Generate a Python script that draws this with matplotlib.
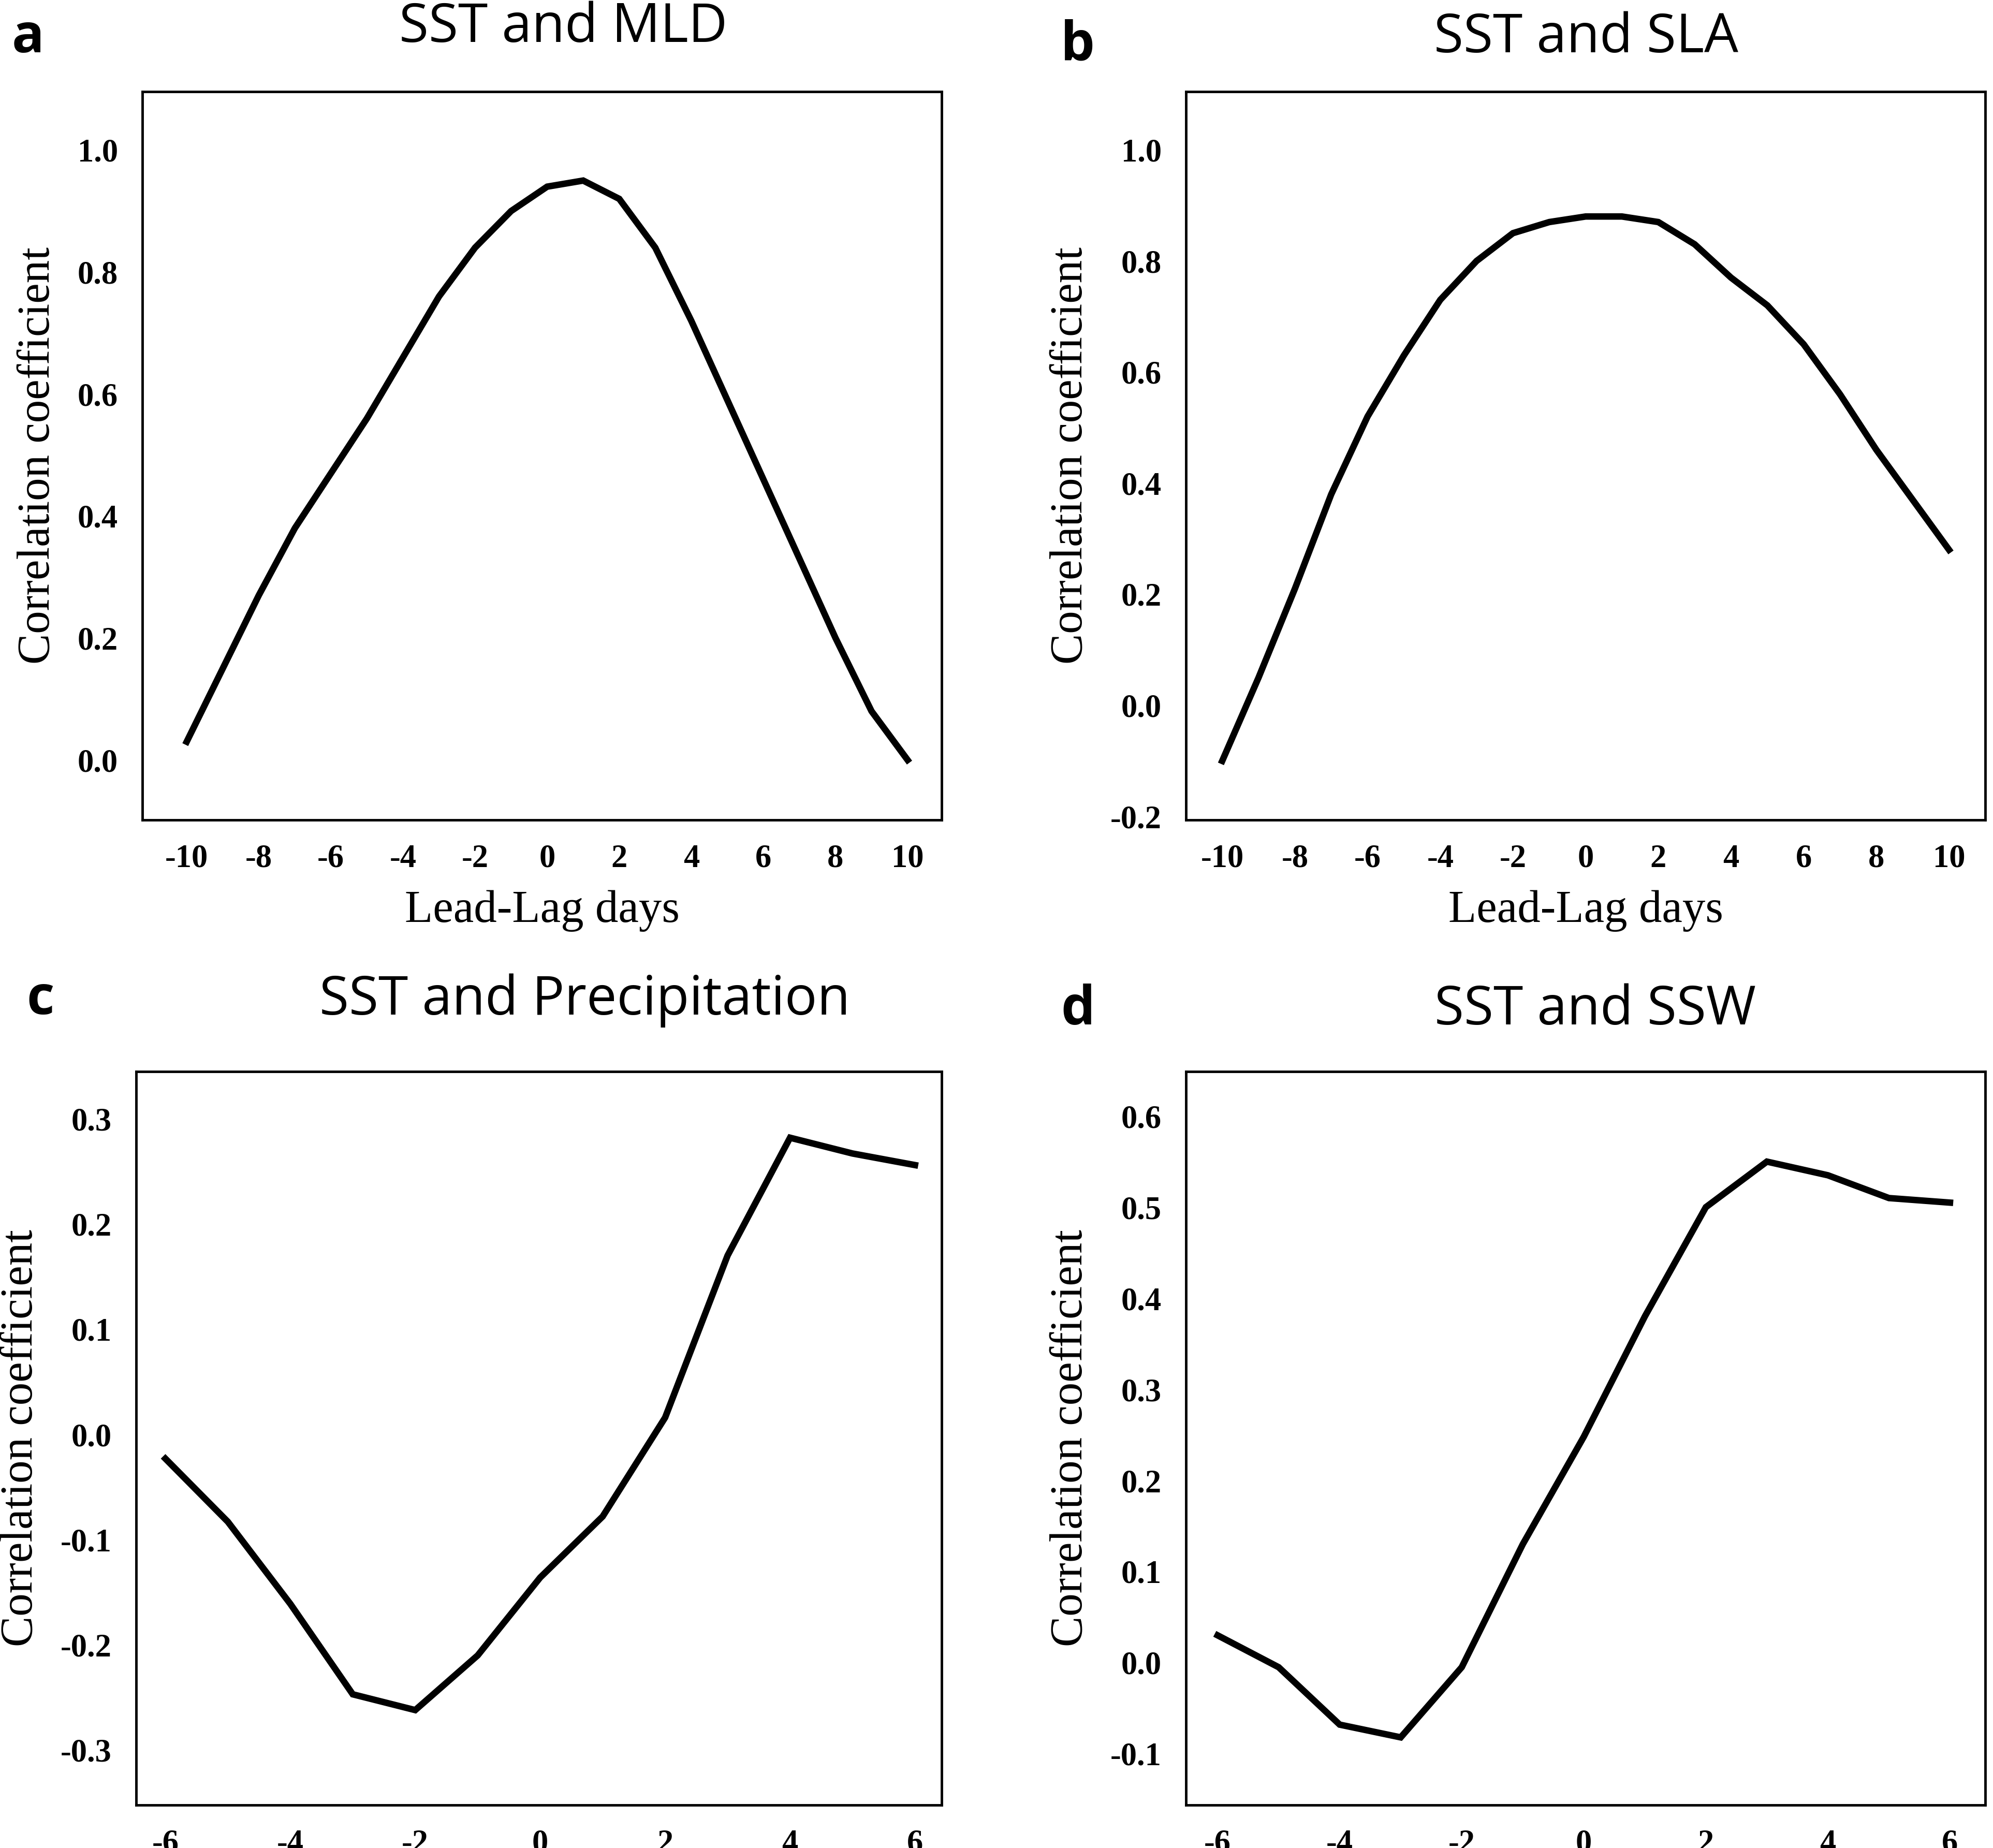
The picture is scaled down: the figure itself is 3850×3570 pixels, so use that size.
import matplotlib
matplotlib.use("Agg")
import matplotlib.pyplot as plt

x_ab = list(range(-10, 11))
x_cd = list(range(-6, 7))
mld = [0.03,0.15,0.27,0.38,0.47,0.56,0.66,0.76,0.84,0.90,0.94,0.95,0.92,0.84,0.72,0.59,0.46,0.33,0.20,0.08,0.0]
sla = [-0.10,0.05,0.21,0.38,0.52,0.63,0.73,0.80,0.85,0.87,0.88,0.88,0.87,0.83,0.77,0.72,0.65,0.56,0.46,0.37,0.28]
pre = [-0.023,-0.083,-0.161,-0.247,-0.262,-0.21,-0.136,-0.078,0.016,0.17,0.282,0.267,0.256]
ssw = [0.03,-0.005,-0.068,-0.082,-0.005,0.13,0.248,0.38,0.50,0.55,0.535,0.51,0.505]

W, H = 1568, 1454
fig = plt.figure(figsize=(38.5, 35.7), dpi=100)
serif = "Liberation Serif"
sans = "Open Sans"

panels = [
    ("a", "SST and MLD", (112, 741, 72, 645), x_ab, mld, (-11.23, 10.95), (-0.098, 1.096),
     [-10,-8,-6,-4,-2,0,2,4,6,8,10], [0.0,0.2,0.4,0.6,0.8,1.0], True, (443, 22), (22, 30)),
    ("b", "SST and SLA", (933, 1562, 72, 645), x_ab, sla, (-11.0, 11.0), (-0.206, 1.105),
     [-10,-8,-6,-4,-2,0,2,4,6,8,10], [-0.2,0.0,0.2,0.4,0.6,0.8,1.0], True, (1248, 30), (848, 36)),
    ("c", "SST and Precipitation", (107, 741, 843, 1420), x_cd, pre, (-6.47, 6.43), (-0.352, 0.345),
     [-6,-4,-2,0,2,4,6], [-0.3,-0.2,-0.1,0.0,0.1,0.2,0.3], False, (460, 787), (32, 787)),
    ("d", "SST and SSW", (933, 1562, 843, 1420), x_cd, ssw, (-6.52, 6.58), (-0.156, 0.649),
     [-6,-4,-2,0,2,4,6], [-0.1,0.0,0.1,0.2,0.3,0.4,0.5,0.6], False, (1255, 795), (848, 795)),
]

for letter, title, (l, r, t, b), xs, ys, xl, yl, xt, yt, xlab, tpos, lpos in panels:
    ax = fig.add_axes([l / W, 1 - b / H, (r - l) / W, (b - t) / H])
    ax.plot(xs, ys, color="black", lw=9, solid_joinstyle="miter")
    ax.set_xlim(*xl)
    ax.set_ylim(*yl)
    ax.set_xticks(xt)
    ax.set_yticks(yt)
    ax.set_xticklabels([str(v) for v in xt], fontfamily=serif, fontweight="bold", fontsize=45)
    ax.set_yticklabels([f"{v:.1f}" for v in yt], fontfamily=serif, fontweight="bold", fontsize=45)
    ax.tick_params(length=0, pad=34)
    for s in ax.spines.values():
        s.set_linewidth(3.5)
    ax.set_ylabel("Correlation coefficient", fontfamily=serif, fontsize=64, labelpad=26)
    if xlab:
        ax.set_xlabel("Lead-Lag days", fontfamily=serif, fontsize=64, labelpad=22)
    fig.text(tpos[0] / W, 1 - tpos[1] / H, title, fontfamily=sans, fontsize=75, ha="center", va="center")
    fig.text(lpos[0] / W, 1 - lpos[1] / H, letter, fontfamily=sans, fontweight="bold", fontsize=75, ha="center", va="center")

fig.savefig("out.png", dpi=100, facecolor="white")
